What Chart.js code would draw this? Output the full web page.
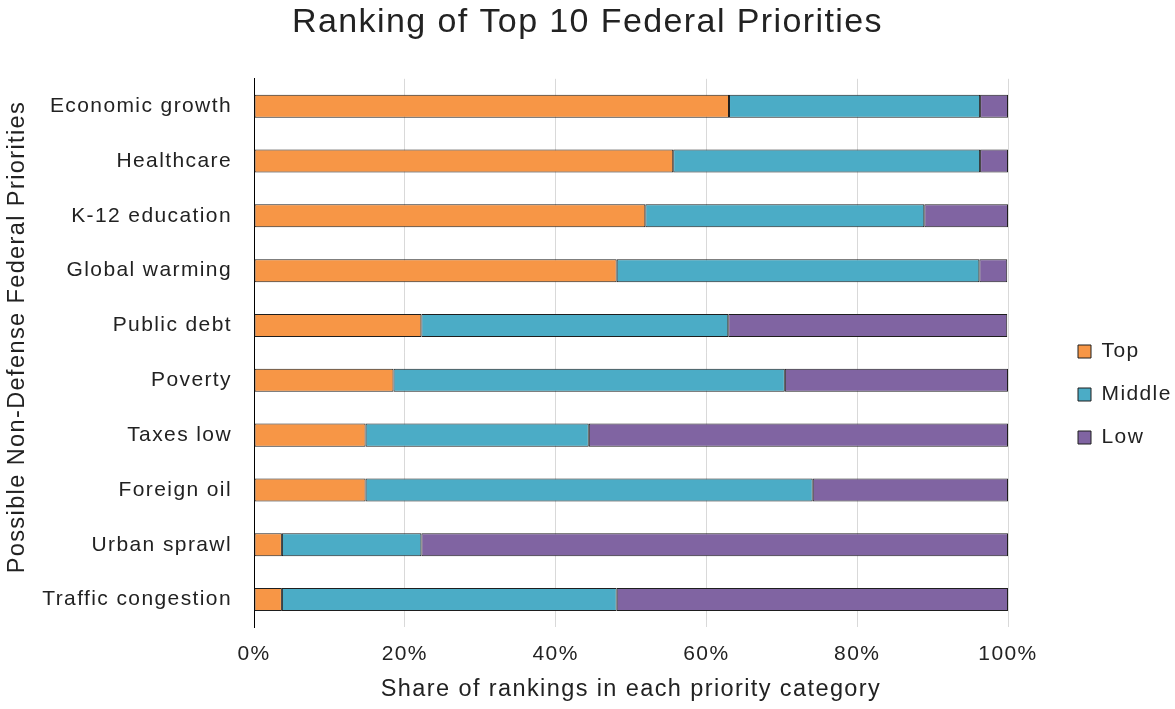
<!DOCTYPE html>
<html lang="en">
<head>
    <meta charset="UTF-8">
    <title>Ranking of Top 10 Federal Priorities</title>
    <script src="https://cdn.jsdelivr.net/npm/chart.js"></script>
    <style>
        html, body {
            margin: 0;
            padding: 0;
            background: #fff;
            overflow: hidden;
        }
        .chart-container {
            width: 1175px;
            height: 709px;
        }
    </style>
</head>
<body>

    <div class="chart-container">
        <canvas id="priorityChart"></canvas>
    </div>

    <script>
        // shares of 27 rankings, in percent
        const categories = ["Economic growth", "Healthcare", "K-12 education", "Global warming", "Public debt",
            "Poverty", "Taxes low", "Foreign oil", "Urban sprawl", "Traffic congestion"];
        const topShare = [63.0, 55.6, 51.9, 48.1, 22.2, 18.5, 14.8, 14.8, 3.7, 3.7];
        const middleShare = [33.3, 40.7, 37.0, 48.1, 40.7, 51.9, 29.6, 59.3, 18.5, 44.4];
        const lowShare = [3.7, 3.7, 11.1, 3.7, 37.0, 29.6, 55.6, 25.9, 77.8, 51.9];
        const seriesNames = ["Top", "Middle", "Low"];
        const seriesColors = ["#F79646", "#4BACC6", "#8064A2"];

        const fontFamily = '"Liberation Sans", Arial, sans-serif';
        const textColor = "#222";

        // the original text is slightly letter-spaced
        const spacingPlugin = {
            id: "spacing",
            beforeUpdate(chart) { chart.ctx.letterSpacing = "1.4px"; },
            beforeDraw(chart) { chart.ctx.letterSpacing = "1.4px"; },
            afterLayout(chart) {
                // legend sits a bit away from the plot and lower than centre
                const lg = chart.legend;
                const dx = chart.chartArea.right + 48 - lg.left;
                lg.left += dx;
                lg.right += dx;
                lg.top += 40;
                lg.bottom += 40;
            }
        };

        const ctx = document.getElementById("priorityChart").getContext("2d");
        new Chart(ctx, {
            type: "bar",
            data: {
                labels: categories,
                datasets: [topShare, middleShare, lowShare].map((values, i) => ({
                    label: seriesNames[i],
                    data: values,
                    backgroundColor: seriesColors[i],
                    borderColor: "#1e1e1e",
                    borderWidth: 1,
                    borderSkipped: false,
                    categoryPercentage: 1,
                    barPercentage: 0.42
                }))
            },
            options: {
                indexAxis: "y",
                responsive: true,
                maintainAspectRatio: false,
                animation: false,
                layout: { padding: 0 },
                scales: {
                    x: {
                        stacked: true,
                        min: 0,
                        max: 100,
                        afterFit: s => { s.height = 82; s.paddingRight = 167; },
                        ticks: {
                            stepSize: 20,
                            padding: 15,
                            color: textColor,
                            font: { family: fontFamily, size: 21 },
                            callback: v => v + "%"
                        },
                        grid: { color: "#d9d9d9", drawTicks: false },
                        border: { display: false },
                        title: {
                            display: true,
                            text: "Share of rankings in each priority category",
                            color: textColor,
                            font: { family: fontFamily, size: 23.5 },
                            padding: { top: 9, bottom: 5 }
                        }
                    },
                    y: {
                        stacked: true,
                        afterFit: s => { s.width = 254; },
                        ticks: {
                            padding: 22,
                            color: textColor,
                            font: { family: fontFamily, size: 21 }
                        },
                        grid: { display: false, drawTicks: false },
                        border: { display: true, color: "#000", width: 1 },
                        title: {
                            display: true,
                            text: "    Possible Non-Defense Federal Priorities",
                            color: textColor,
                            font: { family: fontFamily, size: 23.5 },
                            padding: { top: 3, bottom: 0 }
                        }
                    }
                },
                plugins: {
                    title: {
                        display: true,
                        text: "Ranking of Top 10 Federal Priorities",
                        color: textColor,
                        font: { family: fontFamily, size: 34, weight: "normal" },
                        padding: { top: 2, bottom: 36 }
                    },
                    legend: {
                        position: "right",
                        labels: {
                            boxWidth: 13,
                            boxHeight: 13,
                            padding: 22,
                            color: textColor,
                            font: { family: fontFamily, size: 21 }
                        }
                    },
                    tooltip: { enabled: false }
                }
            },
            plugins: [spacingPlugin]
        });
    </script>

</body>
</html>
